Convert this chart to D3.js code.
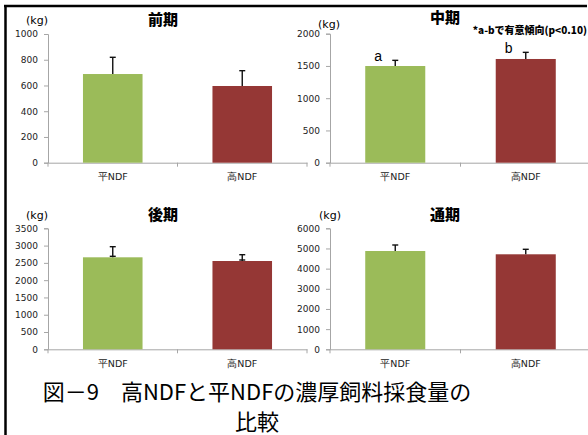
<!DOCTYPE html>
<html>
<head>
<meta charset="utf-8">
<script src="https://cdn.jsdelivr.net/npm/d3@7"></script>
<style>
  html, body { margin: 0; padding: 0; background: #fff; }
  svg { display: block; }
  .tick text { font-family: "DejaVu Sans", sans-serif; font-size: 9px; fill: #222; }
</style>
</head>
<body>
<script>
// Feed groups and per-period concentrate intake (kg), mean and SD
const categories = ["平NDF", "高NDF"];
const periodTitles = ["前期", "中期", "後期", "通期"];

const earlyMean = [689, 596];
const earlyErr = [130, 119];
const midMean = [1499, 1608];
const midErr = [88, 103];
const lateMean = [2661, 2554];
const lateErr = [307, 182];
const wholeMean = [4874, 4711];
const wholeErr = [298, 248];

const yMaxima = [1000, 2000, 3500, 6000];
const yTickSteps = [200, 500, 500, 1000];

const midLetters = ["a", "b"];
const midNote = "*a-bで有意傾向(p<0.10)";
const unitLabel = "(kg)";
const caption = ["図－9　高NDFと平NDFの濃厚飼料採食量の", "比較"];

const barColors = ["#9BBB59", "#953735"];
const axisColor = "#A6A6A6";

const W = 588, H = 435;
const svg = d3.select("body").append("svg").attr("width", W).attr("height", H);
svg.append("rect").attr("width", W).attr("height", H).attr("fill", "#fff");

// outer frame: top and left rules only
svg.append("line").attr("x1", 4).attr("x2", 587).attr("y1", 6).attr("y2", 6)
  .attr("stroke", "#000").attr("stroke-width", 2.5);
svg.append("line").attr("x1", 5.5).attr("x2", 5.5).attr("y1", 5).attr("y2", H)
  .attr("stroke", "#000").attr("stroke-width", 2.5);

const panels = [
  { mean: earlyMean, err: earlyErr, left: 48, width: 259, top: 34, bottom: 162.7,
    titleY: 25, unitX: 37, unitY: 24 },
  { mean: midMean, err: midErr, left: 330, width: 261, top: 33.7, bottom: 162.7,
    titleY: 23, unitX: 329, unitY: 28, letters: midLetters, note: midNote },
  { mean: lateMean, err: lateErr, left: 48, width: 259, top: 228.3, bottom: 349.3,
    titleY: 220, unitX: 37, unitY: 219, lowerCap: true },
  { mean: wholeMean, err: wholeErr, left: 330, width: 261, top: 228.3, bottom: 349.3,
    titleY: 220, unitX: 330, unitY: 219 }
];

panels.forEach((p, i) => {
  const g = svg.append("g");
  const x = d3.scaleBand().domain(categories).range([p.left, p.left + p.width]).padding(0);
  const y = d3.scaleLinear().domain([0, yMaxima[i]]).range([p.bottom, p.top]);
  const bw = x.bandwidth();
  const barW = bw * 0.46;

  // y axis
  const yAxis = d3.axisLeft(y)
    .tickValues(d3.range(0, yMaxima[i] + 1, yTickSteps[i]))
    .tickFormat(d3.format("d"))
    .tickSize(4).tickPadding(6);
  const ya = g.append("g").attr("transform", `translate(${p.left},0)`).call(yAxis);
  ya.selectAll(".domain, .tick line").attr("stroke", axisColor);

  // x axis baseline with boundary ticks between categories
  const xa = g.append("g").attr("transform", `translate(0,${p.bottom})`)
    .call(d3.axisBottom(x).tickSize(0).tickPadding(11).tickSizeOuter(0));
  xa.select(".domain").attr("stroke", axisColor);
  xa.selectAll(".tick text").style("font-size", "9.5px");
  const bounds = categories.map(c => x(c)).concat([x.range()[1]]);
  xa.selectAll("line.bound").data(bounds).join("line").attr("class", "bound")
    .attr("x1", d => d).attr("x2", d => d).attr("y1", 0).attr("y2", 4)
    .attr("stroke", axisColor);

  // bars
  g.selectAll("rect.bar").data(p.mean).join("rect").attr("class", "bar")
    .attr("x", (d, j) => x(categories[j]) + (bw - barW) / 2)
    .attr("y", d => y(d))
    .attr("width", barW)
    .attr("height", d => p.bottom - y(d))
    .attr("fill", (d, j) => barColors[j]);

  // error bars (upper side)
  const cx = j => x(categories[j]) + bw / 2;
  p.mean.forEach((m, j) => {
    const e = p.err[j];
    g.append("line").attr("x1", cx(j)).attr("x2", cx(j))
      .attr("y1", y(m)).attr("y2", y(m + e)).attr("stroke", "#111").attr("stroke-width", 1.4);
    g.append("line").attr("x1", cx(j) - 3).attr("x2", cx(j) + 3)
      .attr("y1", y(m + e)).attr("y2", y(m + e)).attr("stroke", "#111").attr("stroke-width", 1.4);
    if (p.lowerCap) {
      g.append("line").attr("x1", cx(j) - 3).attr("x2", cx(j) + 3)
        .attr("y1", y(m) - 1).attr("y2", y(m) - 1).attr("stroke", "#111").attr("stroke-width", 1.4);
    }
    if (p.letters) {
      g.append("text").attr("x", cx(j) - 17).attr("y", y(m + e) + 1)
        .attr("text-anchor", "middle")
        .style("font-family", "'Liberation Sans', sans-serif").style("font-size", "14px")
        .text(p.letters[j]);
    }
  });

  // title and unit
  g.append("text").attr("x", p.left + 115).attr("y", p.titleY).attr("text-anchor", "middle")
    .style("font-family", "'Noto Sans CJK JP', sans-serif").style("font-weight", "900")
    .style("font-size", "15px").text(periodTitles[i]);
  g.append("text").attr("x", p.unitX).attr("y", p.unitY).attr("text-anchor", "middle")
    .style("font-family", "'DejaVu Sans', sans-serif").style("font-size", "11px")
    .text(unitLabel);

  if (p.note) {
    g.append("text").attr("x", 587).attr("y", 34).attr("text-anchor", "end")
      .style("font-family", "'Noto Sans CJK JP', sans-serif").style("font-weight", "900")
      .style("font-size", "10px").text(p.note);
  }
});

// figure caption
svg.selectAll("text.caption").data(caption).join("text").attr("class", "caption")
  .attr("x", 257).attr("y", (d, k) => 400 + k * 30)
  .attr("text-anchor", "middle")
  .style("font-family", "'Noto Sans CJK JP', sans-serif")
  .style("font-size", "22px")
  .text(d => d);
</script>
</body>
</html>
